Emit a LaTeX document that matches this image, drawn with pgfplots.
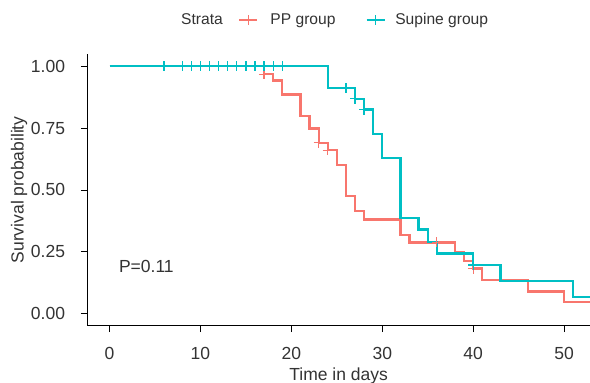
\documentclass[border=0pt]{standalone}
\usepackage{pgfplots}
\pgfplotsset{compat=1.18}
\usepackage{fontspec}
\setmainfont{Liberation Sans}
\definecolor{ppred}{HTML}{F8766D}
\definecolor{supcyan}{HTML}{00BFC4}
\definecolor{txt}{HTML}{333333}

\pgfplotstableread{
t s
0 1
17 0.968
18 0.943
19 0.886
21 0.800
22 0.748
23 0.691
24 0.660
25 0.600
26 0.474
27 0.413
28 0.380
32 0.318
33 0.287
38 0.249
39 0.212
40 0.181
41 0.134
46 0.089
50 0.046
54 0.046
}\pptable

\pgfplotstableread{
t s
17 0.968
23 0.691
24 0.660
36 0.287
40 0.181
}\ppcens

\pgfplotstableread{
t s
0 1
24 0.912
27 0.869
28 0.825
29 0.725
30 0.629
32 0.386
34 0.339
35 0.289
36 0.242
40 0.196
43 0.130
51 0.066
54 0.066
}\suptable

\pgfplotstableread{
t s
6 1
8 1
9 1
10 1
11 1
12 1
13 1
14 1
15 1
16 1
17 1
18 1
19 1
26 0.912
27 0.869
28 0.825
40 0.196
}\supcens

\begin{document}
\begin{tikzpicture}
\useasboundingbox (0,0) rectangle (590pt,383pt);
\begin{axis}[
  at={(87.3pt,57.3pt)}, anchor=south west,
  scale only axis, width=502.7pt, height=271.7pt,
  xmin=-2.45, xmax=52.85, ymin=-0.05, ymax=1.05,
  axis lines*=left,
  axis line style={line width=0.6pt, black, -},
  tick align=outside, major tick length=6.5pt,
  tick style={line width=0.6pt, black},
  xtick={0,10,20,30,40,50},
  ytick={0,0.25,0.5,0.75,1},
  /pgf/number format/assume math mode=true,
  yticklabel style={/pgf/number format/fixed, /pgf/number format/fixed zerofill, /pgf/number format/precision=2},
  ticklabel style={font=\fontsize{17.5}{20}\selectfont, text=txt},
  xticklabel style={anchor=base, inner sep=0pt, yshift=-27pt},
  yticklabel style={anchor=east, inner sep=0pt, xshift=-15.6pt},
  label style={font=\fontsize{17.5}{20}\selectfont, text=txt},
  xlabel={Time in days},
  ylabel={Survival probability},
  xlabel style={at={(axis description cs:0.5,-0.184)}, anchor=center},
  ylabel style={at={(axis description cs:-0.1359,0.5)}, anchor=center},
  clip=true,
  legend columns=-1,
  legend style={draw=none, fill=none, at={(0.1804,1.125)}, anchor=west,
    font=\fontsize{15.6}{18}\selectfont, text=txt,
    nodes={inner sep=0pt}, column sep=0pt, cells={anchor=west}},
  legend image code/.code={
    \draw[#1, mark repeat=2, mark phase=2] plot coordinates {(0pt,0pt) (9pt,0pt) (18pt,0pt)};
  },
]
\addlegendimage{empty legend}
\addlegendentry{\makebox[57pt][l]{Strata}}
\addlegendimage{ppred, line width=2.3pt, mark=+, mark size=5pt, mark options={line width=1.3pt}}
\addlegendentry{\makebox[107pt][l]{\hspace{12pt}PP group}}
\addlegendimage{supcyan, line width=2.3pt, mark=+, mark size=5pt, mark options={line width=1.3pt}}
\addlegendentry{\makebox[103pt][l]{\hspace{9.5pt}Supine group}}

\addplot[const plot, ppred, line width=2.3pt, forget plot] table[x=t, y=s] {\pptable};
\addplot[only marks, mark=+, ppred, mark size=5pt, line width=1.3pt, forget plot] table[x=t, y=s] {\ppcens};
\addplot[const plot, supcyan, line width=2.3pt, forget plot] table[x=t, y=s] {\suptable};
\addplot[only marks, mark=+, supcyan, mark size=5pt, line width=1.3pt, forget plot] table[x=t, y=s] {\supcens};

\node[anchor=west, inner sep=0pt, font=\fontsize{17.5}{20}\selectfont, text=txt] at (axis cs:1.02,0.189) {P=0.11};
\end{axis}
\end{tikzpicture}
\end{document}
